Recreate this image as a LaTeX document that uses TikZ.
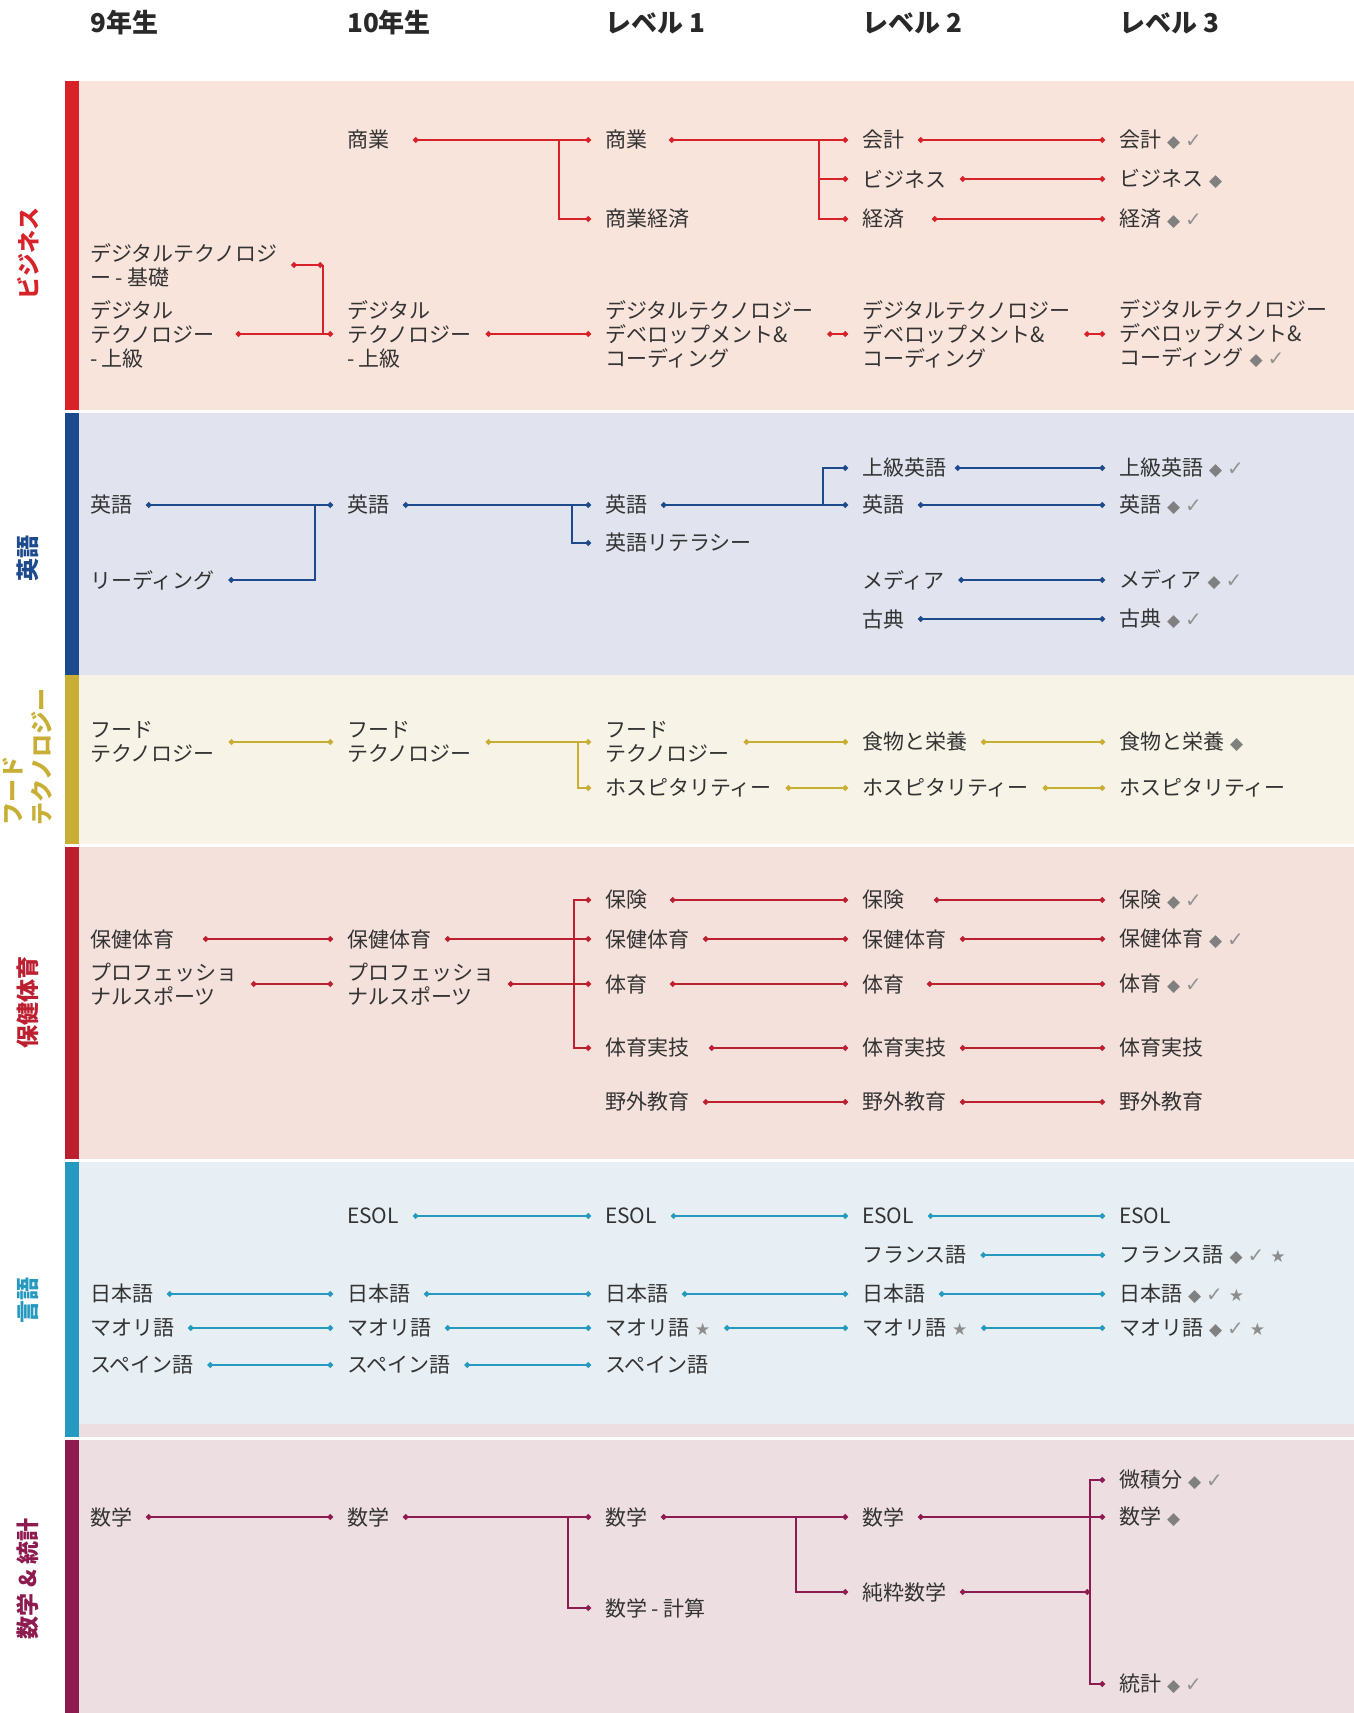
\documentclass[tikz,border=0pt]{standalone}
\usepackage{fontspec}
\setmainfont{Noto Sans CJK JP}
\newfontfamily\symfont{DejaVu Sans}
\usetikzlibrary{arrows.meta}

\definecolor{txt}{HTML}{333333}
\definecolor{bizc}{HTML}{D7222A}
\definecolor{bizbg}{HTML}{F9E4DC}
\definecolor{engc}{HTML}{1D4A8C}
\definecolor{engbg}{HTML}{E1E3EE}
\definecolor{foodc}{HTML}{C9AE35}
\definecolor{foodbg}{HTML}{F7F3E6}
\definecolor{pec}{HTML}{BC1F30}
\definecolor{pebg}{HTML}{F5E1DC}
\definecolor{langc}{HTML}{2599C0}
\definecolor{langbg}{HTML}{E7EEF4}
\definecolor{mathc}{HTML}{8E1B4F}
\definecolor{mathbg}{HTML}{EDDEE1}
\definecolor{mkgray}{HTML}{808080}

\newcommand\mkdia{\hspace{6pt}{\symfont\fontsize{17}{17}\selectfont\textcolor{mkgray}{◆}}}
\newcommand\mkchk{\hspace{5pt}{\symfont\fontsize{20}{20}\selectfont\textcolor{mkgray!85}{✓}}}
\newcommand\mkstar{\hspace{6pt}{\symfont\fontsize{17}{17}\selectfont\textcolor{mkgray!90}{★}}}

\begin{document}
\begin{tikzpicture}[x=1pt, y=-1pt,
    subj/.style={anchor=west, inner sep=0pt, outer xsep=14pt, outer ysep=0pt,
      text=txt, align=left, font=\fontsize{21}{24}\selectfont},
    head/.style={anchor=west, inner sep=0pt, text=txt!80!black,
      font=\bfseries\fontsize{26}{26}\selectfont},
    side/.style={rotate=90, inner sep=0pt, align=left,
      font=\bfseries\fontsize{23}{29}\selectfont},
    link/.style={line width=1.6pt, {Circle[length=5.5pt]}-{Circle[length=5.5pt]}},
    stub/.style={line width=1.6pt, -{Circle[length=5.5pt]}},
    tail/.style={line width=1.6pt, {Circle[length=5.5pt]}-},
    lead/.style={shorten <=#1}]
    \useasboundingbox (0,0) rectangle (1354,1713);
    \fill[white] (0,0) rectangle (1354,1713);
    % Bands
    \fill[bizbg] (79,81) rectangle (1354,410);
    \fill[bizc] (65,81) rectangle (79,410);
    \fill[engbg] (79,413) rectangle (1354,675);
    \fill[engc] (65,413) rectangle (79,675);
    \fill[foodbg] (79,675) rectangle (1354,844);
    \fill[foodc] (65,675) rectangle (79,844);
    \fill[pebg] (79,847) rectangle (1354,1159);
    \fill[pec] (65,847) rectangle (79,1159);
    \fill[langbg] (79,1162) rectangle (1354,1424);
    \fill[mathbg] (79,1424) rectangle (1354,1437);
    \fill[langc] (65,1162) rectangle (79,1437);
    \fill[mathbg] (79,1440) rectangle (1354,1713);
    \fill[mathc] (65,1440) rectangle (79,1713);
    % Column heads
    \node[head] (h1) at (90,23) {9年生};
    \node[head] (h2) at (347,23) {10年生};
    \node[head] (h3) at (605,23) {レベル 1};
    \node[head] (h4) at (862,23) {レベル 2};
    \node[head] (h5) at (1119,23) {レベル 3};
    % Side labels
    \node[side, text=bizc] (sbiz) at (28,253) {ビジネス};
    \node[side, text=engc] (seng) at (28,558) {英語};
    \node[side, text=foodc] (sfood) at (28,757) {フード\\テクノロジー};
    \node[side, text=pec] (spe) at (28,1002) {保健体育};
    \node[side, text=langc] (slang) at (28,1300) {言語};
    \node[side, text=mathc] (smath) at (28,1579) {数学 \& 統計};

    % Business
    \node[subj] (b2a) at (333,140) {商業};
    \node[subj] (b3a) at (591,140) {商業};
    \node[subj] (b3b) at (591,219) {商業経済};
    \node[subj] (b4a) at (848,140) {会計};
    \node[subj] (b4b) at (848,179) {ビジネス};
    \node[subj] (b4c) at (848,219) {経済};
    \node[subj] (b5a) at (1105,140) {会計\mkdia\mkchk};
    \node[subj] (b5b) at (1105,179) {ビジネス\mkdia};
    \node[subj] (b5c) at (1105,219) {経済\mkdia\mkchk};
    \node[subj] (b1a) at (76,265) {デジタルテクノロジ\\ー - 基礎};
    \node[subj] (b1b) at (76,334) {デジタル\\テクノロジー\\- 上級};
    \node[subj] (b2b) at (333,334) {デジタル\\テクノロジー\\- 上級};
    \node[subj] (b3c) at (591,334) {デジタルテクノロジー\\デベロップメント\&\\コーディング};
    \node[subj] (b4d) at (848,334) {デジタルテクノロジー\\デベロップメント\&\\コーディング};
    \node[subj] (b5d) at (1105,334) {デジタルテクノロジー\\デベロップメント\&\\コーディング\mkdia\mkchk};
    \coordinate (bj1) at (559,140);
    \coordinate (bj2) at (819,140);
    \coordinate (bj3) at (323,265);
    \begin{scope}[bizc]
      \draw[link, lead=10pt] (b2a.east) -- (b3a.west);
      \draw[stub] (bj1) |- (b3b.west);
      \draw[link, lead=8pt] (b3a.east) -- (b4a.west);
      \draw[stub] (bj2) |- (b4b.west);
      \draw[stub] (bj2) |- (b4c.west);
      \draw[link] (b4a.east) -- (b5a.west);
      \draw[link] (b4b.east) -- (b5b.west);
      \draw[link, lead=14pt] (b4c.east) -- (b5c.west);
      \draw[link] (b1a.east) -- (bj3);
      \draw[line width=1.6pt] (bj3) -- (bj3 |- b2b.west);
      \draw[link, lead=7pt] (b1b.east) -- (b2b.west);
      \draw[link] (b2b.east) -- (b3c.west);
      \draw[link] (b3c.east) -- (b4d.west);
      \draw[link] (b4d.east) -- (b5d.west);
    \end{scope}

    % English
    \node[subj] (e1a) at (76,505) {英語};
    \node[subj] (e1b) at (76,580) {リーディング};
    \node[subj] (e2a) at (333,505) {英語};
    \node[subj] (e3a) at (591,505) {英語};
    \node[subj] (e3b) at (591,543) {英語リテラシー};
    \node[subj] (e4a) at (848,468) {上級英語};
    \node[subj] (e4b) at (848,505) {英語};
    \node[subj] (e4c) at (848,580) {メディア};
    \node[subj] (e4d) at (848,619) {古典};
    \node[subj] (e5a) at (1105,468) {上級英語\mkdia\mkchk};
    \node[subj] (e5b) at (1105,505) {英語\mkdia\mkchk};
    \node[subj] (e5c) at (1105,580) {メディア\mkdia\mkchk};
    \node[subj] (e5d) at (1105,619) {古典\mkdia\mkchk};
    \coordinate (ej1) at (315,505);
    \coordinate (ej2) at (572,505);
    \coordinate (ej3) at (823,505);
    \begin{scope}[engc]
      \draw[link] (e1a.east) -- (e2a.west);
      \draw[tail] (e1b.east) -| (ej1);
      \draw[link] (e2a.east) -- (e3a.west);
      \draw[stub] (ej2) |- (e3b.west);
      \draw[link] (e3a.east) -- (e4b.west);
      \draw[stub] (ej3) |- (e4a.west);
      \draw[link, lead=-5pt] (e4a.east) -- (e5a.west);
      \draw[link] (e4b.east) -- (e5b.west);
      \draw[link] (e4c.east) -- (e5c.west);
      \draw[link] (e4d.east) -- (e5d.west);
    \end{scope}

    % Food technology
    \node[subj] (f1) at (76,742) {フード\\テクノロジー};
    \node[subj] (f2) at (333,742) {フード\\テクノロジー};
    \node[subj] (f3a) at (591,742) {フード\\テクノロジー};
    \node[subj] (f3b) at (591,788) {ホスピタリティー};
    \node[subj] (f4a) at (848,742) {食物と栄養};
    \node[subj] (f4b) at (848,788) {ホスピタリティー};
    \node[subj] (f5a) at (1105,742) {食物と栄養\mkdia};
    \node[subj] (f5b) at (1105,788) {ホスピタリティー};
    \coordinate (fj1) at (578,742);
    \begin{scope}[foodc]
      \draw[link] (f1.east) -- (f2.west);
      \draw[link] (f2.east) -- (f3a.west);
      \draw[stub] (fj1) |- (f3b.west);
      \draw[link] (f3a.east) -- (f4a.west);
      \draw[link] (f3b.east) -- (f4b.west);
      \draw[link] (f4a.east) -- (f5a.west);
      \draw[link] (f4b.east) -- (f5b.west);
    \end{scope}

    % Health and PE
    \node[subj] (p1a) at (76,939) {保健体育};
    \node[subj] (p1b) at (76,984) {プロフェッショ\\ナルスポーツ};
    \node[subj] (p2a) at (333,939) {保健体育};
    \node[subj] (p2b) at (333,984) {プロフェッショ\\ナルスポーツ};
    \node[subj] (p3a) at (591,900) {保険};
    \node[subj] (p3b) at (591,939) {保健体育};
    \node[subj] (p3c) at (591,984) {体育};
    \node[subj] (p3d) at (591,1048) {体育実技};
    \node[subj] (p3e) at (591,1102) {野外教育};
    \node[subj] (p4a) at (848,900) {保険};
    \node[subj] (p4b) at (848,939) {保健体育};
    \node[subj] (p4c) at (848,984) {体育};
    \node[subj] (p4d) at (848,1048) {体育実技};
    \node[subj] (p4e) at (848,1102) {野外教育};
    \node[subj] (p5a) at (1105,900) {保険\mkdia\mkchk};
    \node[subj] (p5b) at (1105,939) {保健体育\mkdia\mkchk};
    \node[subj] (p5c) at (1105,984) {体育\mkdia\mkchk};
    \node[subj] (p5d) at (1105,1048) {体育実技};
    \node[subj] (p5e) at (1105,1102) {野外教育};
    \coordinate (pj1) at (574,939);
    \begin{scope}[pec]
      \draw[link, lead=15pt] (p1a.east) -- (p2a.west);
      \draw[link] (p1b.east) -- (p2b.west);
      \draw[link] (p2a.east) -- (p3b.west);
      \draw[link] (p2b.east) -- (p3c.west);
      \draw[stub] (pj1) |- (p3a.west);
      \draw[stub] (pj1) |- (p3d.west);
      \draw[link, lead=9pt] (p3a.east) -- (p4a.west);
      \draw[link] (p3b.east) -- (p4b.west);
      \draw[link, lead=9pt] (p3c.east) -- (p4c.west);
      \draw[link, lead=6pt] (p3d.east) -- (p4d.west);
      \draw[link] (p3e.east) -- (p4e.west);
      \draw[link, lead=16pt] (p4a.east) -- (p5a.west);
      \draw[link] (p4b.east) -- (p5b.west);
      \draw[link, lead=9pt] (p4c.east) -- (p5c.west);
      \draw[link] (p4d.east) -- (p5d.west);
      \draw[link] (p4e.east) -- (p5e.west);
    \end{scope}

    % Languages
    \node[subj] (l2a) at (333,1216) {ESOL};
    \node[subj] (l3a) at (591,1216) {ESOL};
    \node[subj] (l4a) at (848,1216) {ESOL};
    \node[subj] (l5a) at (1105,1216) {ESOL};
    \node[subj] (l4b) at (848,1255) {フランス語};
    \node[subj] (l5b) at (1105,1255) {フランス語\mkdia\mkchk\mkstar};
    \node[subj] (l1c) at (76,1294) {日本語};
    \node[subj] (l2c) at (333,1294) {日本語};
    \node[subj] (l3c) at (591,1294) {日本語};
    \node[subj] (l4c) at (848,1294) {日本語};
    \node[subj] (l5c) at (1105,1294) {日本語\mkdia\mkchk\mkstar};
    \node[subj] (l1d) at (76,1328) {マオリ語};
    \node[subj] (l2d) at (333,1328) {マオリ語};
    \node[subj] (l3d) at (591,1328) {マオリ語\mkstar};
    \node[subj] (l4d) at (848,1328) {マオリ語\mkstar};
    \node[subj] (l5d) at (1105,1328) {マオリ語\mkdia\mkchk\mkstar};
    \node[subj] (l1e) at (76,1365) {スペイン語};
    \node[subj] (l2e) at (333,1365) {スペイン語};
    \node[subj] (l3e) at (591,1365) {スペイン語};
    \begin{scope}[langc]
      \draw[link] (l2a.east) -- (l3a.west);
      \draw[link] (l3a.east) -- (l4a.west);
      \draw[link] (l4a.east) -- (l5a.west);
      \draw[link] (l4b.east) -- (l5b.west);
      \draw[link] (l1c.east) -- (l2c.west);
      \draw[link] (l2c.east) -- (l3c.west);
      \draw[link] (l3c.east) -- (l4c.west);
      \draw[link] (l4c.east) -- (l5c.west);
      \draw[link] (l1d.east) -- (l2d.west);
      \draw[link] (l2d.east) -- (l3d.west);
      \draw[link] (l3d.east) -- (l4d.west);
      \draw[link] (l4d.east) -- (l5d.west);
      \draw[link] (l1e.east) -- (l2e.west);
      \draw[link] (l2e.east) -- (l3e.west);
    \end{scope}

    % Mathematics and statistics
    \node[subj] (m1) at (76,1517) {数学};
    \node[subj] (m2) at (333,1517) {数学};
    \node[subj] (m3a) at (591,1517) {数学};
    \node[subj] (m3b) at (591,1608) {数学 - 計算};
    \node[subj] (m4a) at (848,1517) {数学};
    \node[subj] (m4b) at (848,1592) {純粋数学};
    \node[subj] (m5a) at (1105,1480) {微積分\mkdia\mkchk};
    \node[subj] (m5b) at (1105,1517) {数学\mkdia};
    \node[subj] (m5c) at (1105,1684) {統計\mkdia\mkchk};
    \coordinate (mj1) at (568,1517);
    \coordinate (mj2) at (796,1517);
    \coordinate (mj3) at (1090,1592);
    \begin{scope}[mathc]
      \draw[link] (m1.east) -- (m2.west);
      \draw[link] (m2.east) -- (m3a.west);
      \draw[stub] (mj1) |- (m3b.west);
      \draw[link] (m3a.east) -- (m4a.west);
      \draw[stub] (mj2) |- (m4b.west);
      \draw[link] (m4a.east) -- (m5b.west);
      \draw[link] (m4b.east) -- (mj3);
      \draw[stub] (mj3) |- (m5a.west);
      \draw[stub] (mj3) |- (m5c.west);
    \end{scope}
\end{tikzpicture}
\end{document}
